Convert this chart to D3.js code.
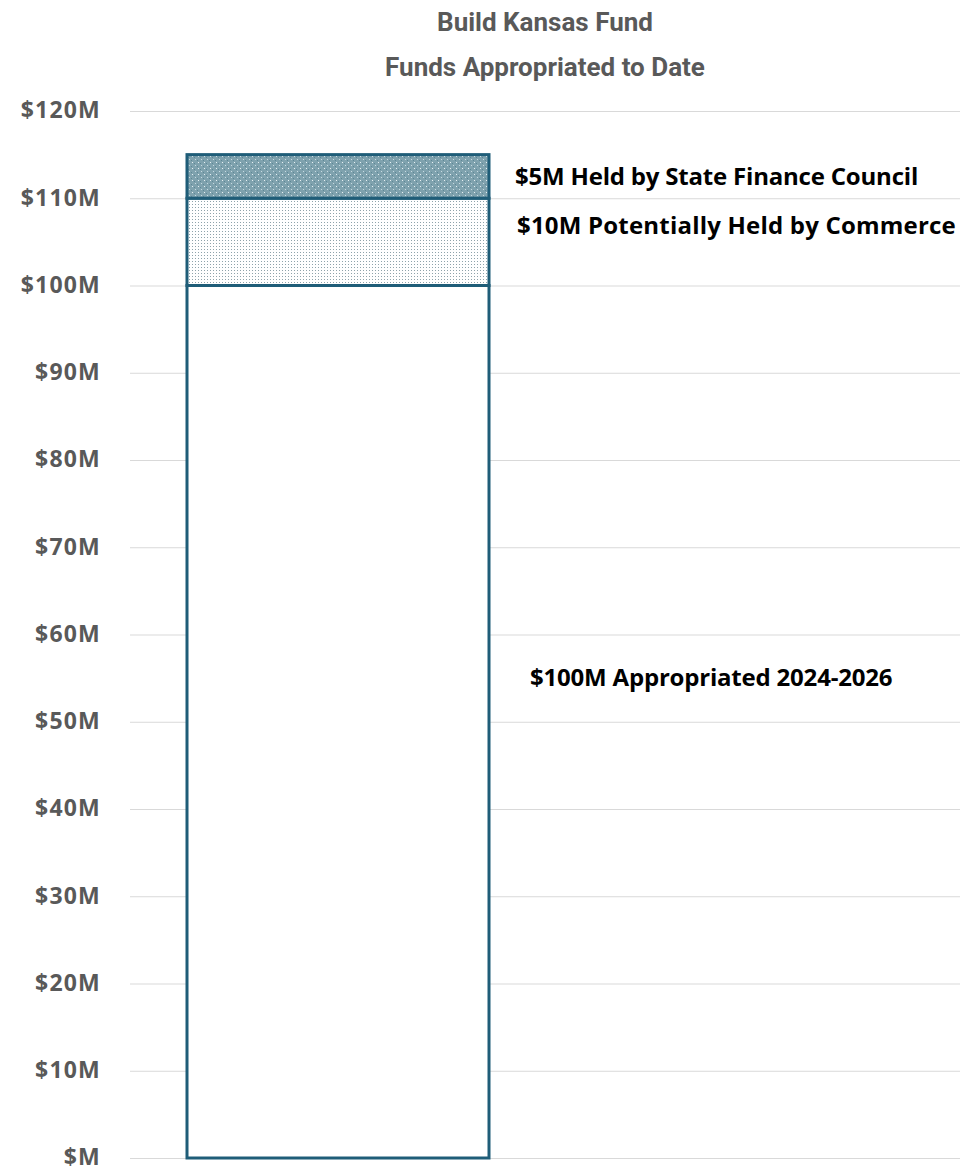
<!DOCTYPE html>
<html>
<head>
<meta charset="utf-8">
<script src="https://cdn.jsdelivr.net/npm/d3@7"></script>
<style>
  body { margin: 0; background: #fff; }
  svg { display: block; }
</style>
</head>
<body>
<div id="chart"></div>
<script>
const titleLines = ["Build Kansas Fund", "Funds Appropriated to Date"];
const segments = ["Appropriated", "Commerce", "Council"];
const segmentValues = [100, 10, 5];
const segmentLabels = [
  "$100M Appropriated 2024-2026",
  "$10M Potentially Held by Commerce",
  "$5M Held by State Finance Council"
];
const tickValues = [0, 10, 20, 30, 40, 50, 60, 70, 80, 90, 100, 110, 120];

const width = 960, height = 1171;
const margin = { top: 111, right: 0, bottom: 13, left: 130 };
const fills = ["#ffffff", "url(#dotsLight)", "url(#dotsDark)"];

const svg = d3.select("#chart").append("svg")
  .attr("width", width).attr("height", height);

const defs = svg.append("defs");
const light = defs.append("pattern").attr("id", "dotsLight")
  .attr("patternUnits", "userSpaceOnUse").attr("width", 3).attr("height", 3);
light.append("rect").attr("width", 3).attr("height", 3).attr("fill", "#ffffff");
light.append("rect").attr("width", 1).attr("height", 1).attr("fill", "#8fa3ab");

const dark = defs.append("pattern").attr("id", "dotsDark")
  .attr("patternUnits", "userSpaceOnUse").attr("width", 6).attr("height", 6);
dark.append("rect").attr("width", 6).attr("height", 6).attr("fill", "#7fa2ae");
dark.append("rect").attr("x", 0).attr("y", 0).attr("width", 1).attr("height", 1).attr("fill", "#e6f0f3");
dark.append("rect").attr("x", 3).attr("y", 3).attr("width", 1).attr("height", 1).attr("fill", "#c7dbe2");
dark.append("rect").attr("x", 2).attr("y", 1).attr("width", 1).attr("height", 1).attr("fill", "#5d8796");
dark.append("rect").attr("x", 5).attr("y", 4).attr("width", 1).attr("height", 1).attr("fill", "#5d8796");

const y = d3.scaleLinear().domain([0, 120]).range([height - margin.bottom, margin.top]);

// title
svg.append("g").selectAll("text").data(titleLines).join("text")
  .attr("x", 545).attr("y", (d, i) => 31 + i * 45)
  .attr("text-anchor", "middle")
  .attr("font-family", "'Roboto', sans-serif")
  .attr("font-weight", "bold").attr("font-size", 26)
  .attr("fill", "#595959")
  .text(d => d);

// gridlines + tick labels
const axis = d3.axisLeft(y).tickValues(tickValues)
  .tickSize(-(width - margin.left))
  .tickFormat(d => "$" + (d === 0 ? "" : d) + "M");
const ag = svg.append("g").attr("transform", `translate(${margin.left},0)`).call(axis);
ag.select(".domain").remove();
ag.selectAll(".tick line").attr("stroke", "#d9d9d9").attr("stroke-width", 1);
ag.selectAll(".tick text")
  .attr("x", -29).attr("dy", "0.3em")
  .attr("font-family", "'Open Sans', sans-serif")
  .attr("font-weight", "bold").attr("font-size", 23)
  .attr("letter-spacing", 1.2)
  .attr("fill", "#595959");

// stacked bar
const stack = [];
let acc = 0;
segmentValues.forEach((v, i) => { stack.push({ y0: acc, y1: acc + v, fill: fills[i], label: segmentLabels[i] }); acc += v; });

const barX0 = 187, barX1 = 489;
svg.append("g").selectAll("rect").data(stack).join("rect")
  .attr("x", barX0).attr("width", barX1 - barX0)
  .attr("y", d => y(d.y1)).attr("height", d => y(d.y0) - y(d.y1))
  .attr("fill", d => d.fill)
  .attr("stroke", "#1f5d78").attr("stroke-width", 3);

// segment labels
const labelPos = [
  { x: 530, yv: 55.1 },
  { x: 517, yv: 106.9 },
  { x: 515, yv: 112.5 }
];
svg.append("g").selectAll("text").data(stack).join("text")
  .attr("x", (d, i) => labelPos[i].x)
  .attr("y", (d, i) => y(labelPos[i].yv))
  .attr("dy", "0.35em")
  .attr("font-family", "'Open Sans', sans-serif")
  .attr("font-weight", "bold").attr("font-size", 24)
  .attr("letter-spacing", (d, i) => i === 1 ? 0.2 : -0.2)
  .attr("fill", "#000")
  .text(d => d.label);
</script>
</body>
</html>
